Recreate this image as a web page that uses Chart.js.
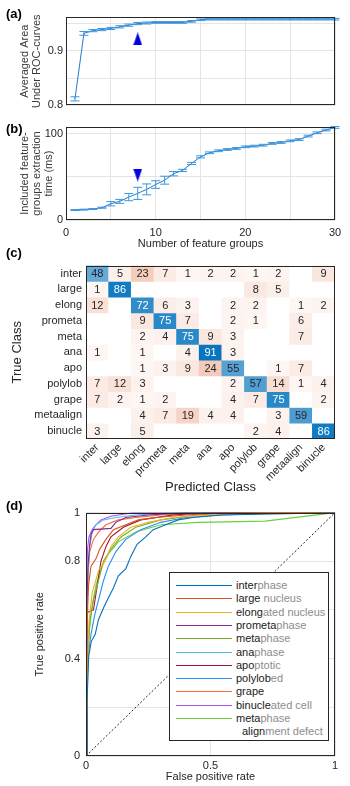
<!DOCTYPE html>
<html>
<head>
<meta charset="utf-8">
<script src="https://cdn.jsdelivr.net/npm/chart.js@4.4.1/dist/chart.umd.min.js"></script>
<style>
  body { margin: 0; background: #fff; }
  #page { position: relative; width: 350px; height: 786px; overflow: hidden; font-family: 'Liberation Sans', Arial, sans-serif; }
  #page canvas { position: absolute; left: 0; }
  .tag { position: absolute; left: 6px; font-weight: bold; font-size: 13px; line-height: 13px; color: #000; }
  #rocLegend { position: absolute; left: 169px; top: 572px; width: 160px; height: 169px; box-sizing: border-box;
               border: 1px solid #262626; background: #fff; font-size: 11px; }
  #rocLegend .row { position: absolute; height: 13px; line-height: 13px; white-space: nowrap; }
  #rocLegend .swatch { position: absolute; left: 6px; width: 56px; height: 0; }
  #rocLegend .k { color: #1a1a1a; }
  #rocLegend .g { color: #8c8c8c; }
</style>
</head>
<body>
<div id="page">
  <canvas id="cA" width="350" height="115" style="top:0"></canvas>
  <canvas id="cB" width="350" height="140" style="top:115px"></canvas>
  <canvas id="cC" width="350" height="245" style="top:255px"></canvas>
  <canvas id="cD" width="350" height="286" style="top:500px"></canvas>
  <div class="tag" style="top:7px">(a)</div>
  <div class="tag" style="top:122px">(b)</div>
  <div class="tag" style="top:246px">(c)</div>
  <div class="tag" style="top:499px">(d)</div>
  <div id="rocLegend"></div>
</div>
<script>
// ---- (a) / (b) feature group curves
var groups = [1,2,3,4,5,6,7,8,9,10,11,12,13,14,15,16,17,18,19,20,21,22,23,24,25,26,27,28,29,30];
var aucMean = [0.812,0.932,0.937,0.939,0.941,0.944,0.947,0.950,0.951,0.952,0.952,0.952,0.952,0.954,0.957,0.958,0.958,0.958,0.958,0.958,0.958,0.958,0.958,0.958,0.958,0.958,0.958,0.958,0.958,0.958];
var aucErr  = [0.0038,0.0035,0.002,0.002,0.002,0.002,0.002,0.002,0.0018,0.0015,0.0015,0.0015,0.0015,0.0015,0.0015,0.0015,0.0015,0.0015,0.0015,0.0015,0.0015,0.0015,0.0015,0.0015,0.0015,0.0015,0.0015,0.0015,0.0015,0.0015];
var timeMean = [11.5,12,12.7,14.2,18.8,21.5,26.5,30.8,35.4,41,46,53.5,57.3,65.4,73,77.7,80,81.5,82.7,84.6,85.4,86.5,88.5,89.6,91.5,93,97,100.8,104,107];
var timeErr  = [0.5,0.5,0.5,0.6,2.5,2.3,4.2,7,6.3,4.4,4.6,2.5,1.3,1.2,1.2,1,1,1,1,1,1,1,1,1,1,1,1,1,1,1];
var markerGroup = 8;
var markerAuc = 0.922;
var markerTime = 52;

var groupTicks = [0,5,10,15,20,25,30];
var groupTickLabels = ['0','','10','','20','','30'];
var aucTicks = [0.8,0.85,0.9,0.95];
var aucTickLabels = ['0.8','','0.9',''];
var timeTicks = [0,50,100];
var timeTickLabels = ['0','','100'];

// ---- (c) confusion matrix (rows: true class, columns: predicted class)
var classes = ['inter','large','elong','prometa','meta','ana','apo','polylob','grape','metaalign','binucle'];
var confusion = [
  [48, 5,23, 7, 1, 2, 2, 1, 2, 0, 9],
  [ 1,86, 0, 0, 0, 0, 0, 8, 5, 0, 0],
  [12, 0,72, 6, 3, 0, 2, 2, 0, 1, 2],
  [ 0, 0, 9,75, 7, 0, 2, 1, 0, 6, 0],
  [ 0, 0, 2, 4,75, 9, 3, 0, 0, 7, 0],
  [ 1, 0, 1, 0, 4,91, 3, 0, 0, 0, 0],
  [ 0, 0, 1, 3, 9,24,55, 0, 1, 7, 0],
  [ 7,12, 3, 0, 0, 0, 2,57,14, 1, 4],
  [ 7, 2, 1, 2, 0, 0, 4, 7,75, 0, 2],
  [ 0, 0, 4, 7,19, 4, 4, 0, 3,59, 0],
  [ 3, 0, 5, 0, 0, 0, 0, 2, 4, 0,86]
];

// ---- (d) ROC curves, [false positive rate, true positive rate]
var rocInter    = [[0,0],[0.004,0.22],[0.011,0.41],[0.021,0.47],[0.037,0.5],[0.05,0.56],[0.071,0.61],[0.09,0.65],[0.11,0.69],[0.13,0.74],[0.16,0.77],[0.18,0.82],[0.205,0.87],[0.24,0.9],[0.27,0.93],[0.32,0.95],[0.37,0.97],[0.43,0.98],[0.54,0.99],[0.8,0.995],[1,1]];
var rocLarge    = [[0,0],[0.003,0.5],[0.01,0.7],[0.02,0.78],[0.04,0.81],[0.055,0.85],[0.08,0.89],[0.11,0.93],[0.16,0.95],[0.21,0.97],[0.28,0.98],[0.4,0.99],[0.55,1],[1,1]];
var rocElong    = [[0,0],[0.005,0.3],[0.012,0.55],[0.025,0.67],[0.05,0.76],[0.08,0.81],[0.1,0.86],[0.13,0.9],[0.18,0.94],[0.25,0.96],[0.35,0.98],[0.5,0.99],[0.7,1],[1,1]];
var rocPrometa  = [[0,0],[0.003,0.6],[0.008,0.78],[0.014,0.86],[0.02,0.91],[0.03,0.93],[0.1,0.935],[0.12,0.96],[0.16,0.98],[0.25,0.99],[0.4,1],[1,1]];
var rocMeta     = [[0,0],[0.005,0.35],[0.015,0.55],[0.03,0.64],[0.05,0.72],[0.07,0.8],[0.1,0.85],[0.14,0.9],[0.2,0.94],[0.3,0.97],[0.45,0.99],[0.6,1],[1,1]];
var rocAna      = [[0,0],[0.003,0.5],[0.008,0.75],[0.015,0.86],[0.025,0.92],[0.04,0.95],[0.07,0.97],[0.12,0.98],[0.2,0.99],[0.35,1],[1,1]];
var rocApo      = [[0,0],[0.003,0.4],[0.005,0.59],[0.03,0.6],[0.045,0.7],[0.06,0.8],[0.08,0.86],[0.1,0.9],[0.15,0.94],[0.22,0.97],[0.35,0.99],[0.5,1],[1,1]];
var rocPolylob  = [[0,0],[0.004,0.3],[0.01,0.42],[0.02,0.5],[0.035,0.58],[0.05,0.64],[0.07,0.72],[0.09,0.78],[0.12,0.84],[0.16,0.89],[0.22,0.93],[0.3,0.96],[0.4,0.98],[0.55,0.99],[0.8,1],[1,1]];
var rocGrape    = [[0,0],[0.003,0.55],[0.008,0.75],[0.015,0.84],[0.03,0.89],[0.05,0.92],[0.08,0.95],[0.13,0.97],[0.2,0.98],[0.3,0.99],[0.5,1],[1,1]];
var rocBinucle  = [[0,0],[0.002,0.7],[0.006,0.85],[0.012,0.9],[0.025,0.93],[0.04,0.95],[0.06,0.97],[0.1,0.985],[0.13,0.99],[0.19,1],[1,1]];
var rocMetaalign= [[0,0],[0.004,0.3],[0.012,0.5],[0.025,0.62],[0.04,0.7],[0.06,0.77],[0.09,0.83],[0.13,0.88],[0.2,0.92],[0.3,0.95],[0.45,0.96],[0.72,0.965],[1,1]];
var rocCurves = [rocInter, rocLarge, rocElong, rocPrometa, rocMeta, rocAna, rocApo, rocPolylob, rocGrape, rocBinucle, rocMetaalign];
var rocLabels = ['[inter]phase','[large] nucleus','[elong]ated nucleus','[prometa]phase','[meta]phase','[ana]phase',
                 '[apo]ptotic','[polylob]ed','[grape]','[binucle]ated cell','[meta]phase|[align]ment defect'];
var rocColors = ['#0072BD','#D95319','#EDB120','#7E2F8E','#77AC30','#4DBEEE','#A2142F','#2a8ff0','#ff6633','#b24cf5','#6ccf3c'];
var fprTicks = [0,0.5,1];
var fprTickLabels = ['0','0.5','1'];
var tprTicks = [0,0.2,0.4,0.6,0.8,1];
var tprTickLabels = ['0','','0.4','','0.8','1'];

var INK = '#262626';
var GRID = '#e4e4e4';
var LINE = '#1f7cce';

Chart.defaults.font.family = "'Liberation Sans', Arial, sans-serif";
Chart.defaults.font.size = 11;
Chart.defaults.color = INK;
Chart.defaults.animation = false;
Chart.defaults.plugins.legend.display = false;
Chart.defaults.plugins.tooltip.enabled = false;

function fixedTicks(values) {
  return function (scale) { scale.ticks = values.map(function (v) { return { value: v }; }); };
}
function labelsFrom(labels) {
  return function (v, i) { return labels[i]; };
}

// frame around the plot area
var boxPlugin = {
  id: 'box',
  afterDraw: function (chart) {
    var a = chart.chartArea, ctx = chart.ctx;
    ctx.save();
    ctx.strokeStyle = INK;
    ctx.lineWidth = 1;
    ctx.strokeRect(Math.round(a.left) + 0.5, Math.round(a.top) + 0.5,
                   Math.round(a.right - a.left) - 1, Math.round(a.bottom - a.top) - 1);
    ctx.restore();
  }
};

var errorBarPlugin = {
  id: 'errorBars',
  afterDatasetsDraw: function (chart, args, opts) {
    if (!opts.errors) return;
    var ctx = chart.ctx, x = chart.scales.x, y = chart.scales.y;
    ctx.save();
    ctx.strokeStyle = opts.color;
    ctx.lineWidth = 1;
    ctx.beginPath();
    opts.xs.forEach(function (g, i) {
      var px = x.getPixelForValue(g);
      var top = y.getPixelForValue(opts.means[i] + opts.errors[i]);
      var bot = y.getPixelForValue(opts.means[i] - opts.errors[i]);
      ctx.moveTo(px, top); ctx.lineTo(px, bot);
      ctx.moveTo(px - opts.cap, top); ctx.lineTo(px + opts.cap, top);
      ctx.moveTo(px - opts.cap, bot); ctx.lineTo(px + opts.cap, bot);
    });
    ctx.stroke();
    ctx.restore();
  }
};

function triangle(down) {
  var c = document.createElement('canvas');
  c.width = 9; c.height = 13;
  var g = c.getContext('2d');
  g.fillStyle = '#0000e0';
  g.beginPath();
  if (down) { g.moveTo(0, 0); g.lineTo(9, 0); g.lineTo(4.5, 13); }
  else { g.moveTo(4.5, 0); g.lineTo(9, 13); g.lineTo(0, 13); }
  g.closePath();
  g.fill();
  return c;
}

function curvePanel(id, means, errs, marker, markerDown, yMin, yMax, yTicks, yTickLabels, yTitle, showX, pad) {
  return new Chart(document.getElementById(id), {
    type: 'line',
    data: {
      datasets: [
        { data: groups.map(function (g, i) { return { x: g, y: means[i] }; }),
          borderColor: LINE, borderWidth: 1, pointRadius: 0 },
        { data: [{ x: markerGroup, y: marker }], showLine: false,
          pointStyle: triangle(markerDown), pointRadius: 6 }
      ]
    },
    options: {
      responsive: false,
      layout: { padding: pad },
      scales: {
        x: {
          type: 'linear', min: 0, max: 30,
          afterBuildTicks: fixedTicks(groupTicks),
          ticks: { display: showX, padding: 6, callback: labelsFrom(groupTickLabels), autoSkip: false, maxRotation: 0 },
          grid: { color: GRID, drawTicks: false },
          border: { display: false },
          title: { display: showX, text: 'Number of feature groups', padding: { top: 0, bottom: 4 } },
          afterFit: function (s) { s.height = showX ? 35 : 0; }
        },
        y: {
          min: yMin, max: yMax,
          afterBuildTicks: fixedTicks(yTicks),
          ticks: { padding: 3, callback: labelsFrom(yTickLabels), autoSkip: false },
          grid: { color: GRID, drawTicks: false },
          border: { display: false },
          title: { display: true, text: yTitle, color: '#3a3a3a', font: { size: 11, lineHeight: 1.1 },
                   padding: { top: 19, bottom: 0 } },
          afterFit: function (s) { s.width = 66; }
        }
      },
      plugins: {
        errorBars: { xs: groups, means: means, errors: errs, color: '#3d95dc', cap: 4.5 }
      }
    },
    plugins: [boxPlugin, errorBarPlugin]
  });
}

curvePanel('cA', aucMean, aucErr, markerAuc, false, 0.8, 0.962, aucTicks, aucTickLabels,
           ['Averaged Area', 'Under ROC-curves'], false, { top: 17, right: 15, bottom: 4, left: 0 });
curvePanel('cB', timeMean, timeErr, markerTime, true, 0, 107.5, timeTicks, timeTickLabels,
           ['Included feature-', 'groups extraction', 'time (ms)'], true, { top: 12, right: 15, bottom: 0, left: 0 });

// ---- (c)
function cellColor(r, c, v) {
  if (!v) return '#ffffff';
  var a, base;
  if (r === c) { a = Math.min(1, 0.2 + 0.0085 * v); base = [0, 114, 189]; }
  else { a = Math.min(1, 0.04 + 0.011 * v); base = [217, 83, 25]; }
  return 'rgb(' + base.map(function (b) { return Math.round(255 - (255 - b) * a); }).join(',') + ')';
}

var cellTextPlugin = {
  id: 'cellText',
  afterDatasetsDraw: function (chart) {
    var ctx = chart.ctx;
    ctx.save();
    ctx.font = "11px 'Liberation Sans', Arial, sans-serif";
    ctx.textAlign = 'center';
    ctx.textBaseline = 'middle';
    chart.data.datasets.forEach(function (ds, r) {
      chart.getDatasetMeta(r).data.forEach(function (el, c) {
        var v = confusion[r][c];
        if (!v) return;
        ctx.fillStyle = (r === c && v >= 70) ? '#ffffff' : INK;
        ctx.fillText(String(v), el.x, (el.y + el.base) / 2 + 0.5);
      });
    });
    ctx.restore();
  }
};

new Chart(document.getElementById('cC'), {
  type: 'bar',
  data: {
    labels: classes,
    datasets: confusion.map(function (row, r) {
      return {
        data: row.map(function () { return [r, r + 1]; }),
        backgroundColor: row.map(function (v, c) { return cellColor(r, c, v); }),
        borderWidth: 0, barPercentage: 1, categoryPercentage: 1
      };
    })
  },
  options: {
    responsive: false,
    layout: { padding: { top: 2, right: 15, bottom: 0, left: 0 } },
    scales: {
      x: {
        stacked: true,
        ticks: { autoSkip: false, minRotation: 45, maxRotation: 45, padding: 2 },
        grid: { display: false, drawTicks: false },
        border: { display: false },
        title: { display: true, text: 'Predicted Class', font: { size: 13 }, padding: { top: 0, bottom: 5 } },
        afterFit: function (s) { s.height = 61; }
      },
      y: {
        stacked: false, min: 0, max: 11, reverse: true,
        afterBuildTicks: function (s) { s.ticks = classes.map(function (c, i) { return { value: i + 0.5 }; }); },
        ticks: { autoSkip: false, padding: 4, callback: labelsFrom(classes) },
        grid: { display: false, drawTicks: false },
        border: { display: false },
        title: { display: true, text: 'True Class', font: { size: 13 }, padding: { top: 10, bottom: 0 } },
        afterFit: function (s) { s.width = 86; }
      }
    }
  },
  plugins: [cellTextPlugin, boxPlugin]
});

// ---- (d)
var rocDatasets = rocCurves.map(function (pts, i) {
  return {
    label: rocLabels[i],
    data: pts.map(function (p) { return { x: p[0], y: p[1] }; }),
    borderColor: rocColors[i], borderWidth: 1.1, pointRadius: 0
  };
});
rocDatasets.push({
  data: [{ x: 0, y: 0 }, { x: 1, y: 1 }],
  borderColor: INK, borderWidth: 1, borderDash: [2, 2], pointRadius: 0
});

var rocChart = new Chart(document.getElementById('cD'), {
  type: 'line',
  data: { datasets: rocDatasets },
  options: {
    responsive: false,
    layout: { padding: { top: 6, right: 15, bottom: 0, left: 0 } },
    scales: {
      x: {
        type: 'linear', min: 0, max: 1,
        afterBuildTicks: fixedTicks(fprTicks),
        ticks: { padding: 3, callback: labelsFrom(fprTickLabels), autoSkip: false, maxRotation: 0 },
        grid: { color: GRID, drawTicks: false },
        border: { display: false },
        title: { display: true, text: 'False positive rate', padding: { top: 0, bottom: 2 } },
        afterFit: function (s) { s.height = 30; }
      },
      y: {
        min: 0, max: 1,
        afterBuildTicks: fixedTicks(tprTicks),
        ticks: { padding: 6, callback: labelsFrom(tprTickLabels), autoSkip: false },
        grid: { color: GRID, drawTicks: false },
        border: { display: false },
        title: { display: true, text: 'True positive rate', padding: { top: 33, bottom: 0 } },
        afterFit: function (s) { s.width = 86; }
      }
    }
  },
  plugins: [boxPlugin]
});

// legend with the short class name in dark and the rest in grey
function labelHtml(text) {
  return text.split(/\[|\]/).map(function (part, i) {
    return part ? '<span class="' + (i % 2 ? 'k' : 'g') + '">' + part + '</span>' : '';
  }).join('');
}
var legend = document.getElementById('rocLegend');
var rowTop = 6, rowStep = 13.3, line = 0;
rocChart.data.datasets.forEach(function (ds) {
  if (!ds.label) return;
  var parts = ds.label.split('|');
  var sw = document.createElement('div');
  sw.className = 'swatch';
  sw.style.top = (rowTop + line * rowStep + 6) + 'px';
  sw.style.borderTop = '1.6px solid ' + ds.borderColor;
  legend.appendChild(sw);
  parts.forEach(function (p, k) {
    var row = document.createElement('div');
    row.className = 'row';
    row.style.top = (rowTop + line * rowStep) + 'px';
    row.style.left = (k ? 72 : 66) + 'px';
    row.innerHTML = labelHtml(p);
    legend.appendChild(row);
    line++;
  });
});
</script>
</body>
</html>
